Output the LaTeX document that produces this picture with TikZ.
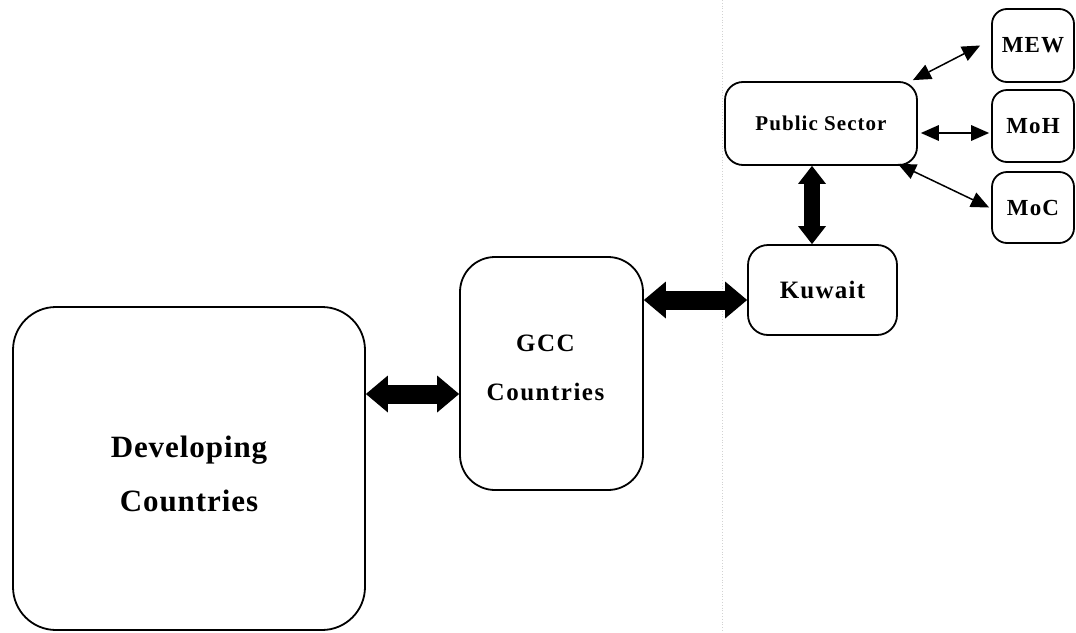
\documentclass[tikz,border=0pt]{standalone}
\usepackage{fontspec}
\setmainfont{Liberation Serif}
\usetikzlibrary{arrows.meta}
\begin{document}
\begin{tikzpicture}[x=1pt,y=-1pt,
  box/.style={draw=black,line width=1.8pt,fill=white,align=center,inner sep=0pt},
  txt/.style={align=center,inner sep=0pt},
  bigarrow/.style={line width=19pt,
    {Triangle[length=22pt,width=37pt,line width=0pt]}-{Triangle[length=22pt,width=37pt,line width=0pt]}},
  vertarrow/.style={line width=16pt,
    {Triangle[length=18pt,width=28pt,line width=0pt]}-{Triangle[length=18pt,width=28pt,line width=0pt]}},
  thinarrow/.style={line width=1.5pt,
    {Triangle[length=18pt,width=16pt,line width=0pt]}-{Triangle[length=18pt,width=16pt,line width=0pt]}},
  lbl/.style={font=\bfseries\fontsize{#1}{36}\selectfont\addfontfeatures{LetterSpace=5}}
]
\useasboundingbox (0,0) rectangle (1076,632);
\fill[white] (0,0) rectangle (1076,632);

% faint vertical guide line
\draw[gray!35,line width=0.8pt,dotted] (722,0) coordinate (gtop) -- (722,632) coordinate (gbot);

% boxes
\node[box,rounded corners=43pt,minimum width=352pt,minimum height=323pt]
  (dc) at (189,468.5) {};
\node[txt,font=\bfseries\fontsize{31}{54}\selectfont\addfontfeatures{LetterSpace=3}]
  (dctext) at ([yshift=-5pt]dc.center) {Developing\\Countries};
\node[box,rounded corners=35pt,minimum width=183pt,minimum height=233pt]
  (gcc) at (551.5,373.5) {};
\node[txt,font=\bfseries\fontsize{25}{49}\selectfont\addfontfeatures{LetterSpace=6}]
  (gcctext) at ([xshift=-6pt,yshift=6pt]gcc.center) {GCC\\Countries};
\node[box,rounded corners=20pt,minimum width=149pt,minimum height=90pt,lbl=25]
  (kuw) at (822.5,290) {Kuwait};
\node[box,rounded corners=18pt,minimum width=192pt,minimum height=83pt,lbl=21]
  (ps) at (821,123.5) {Public Sector};
\node[box,rounded corners=15pt,minimum width=82pt,minimum height=73pt,lbl=23]
  (mew) at (1033,45.5) {MEW};
\node[box,rounded corners=15pt,minimum width=82pt,minimum height=72pt,lbl=23]
  (moh) at (1033,126) {MoH};
\node[box,rounded corners=15pt,minimum width=82pt,minimum height=71pt,lbl=23]
  (moc) at (1033,207.5) {MoC};

% connectors
\draw[bigarrow] (dc.east |- 0,394) -- (gcc.west |- 0,394);
\draw[bigarrow] (gcc.east |- 0,300) -- (kuw.west |- 0,300);
\draw[vertarrow] (ps.south -| 812,0) -- (kuw.north -| 812,0);
\draw[thinarrow] ([xshift=-5pt,yshift=1pt]ps.north east) -- ([xshift=-11pt]mew.west);
\draw[thinarrow] ([xshift=3pt]ps.east |- 0,133) -- ([xshift=-2pt]moh.west |- 0,133);
\draw[thinarrow] ([xshift=-20pt,yshift=2pt]ps.south east) -- ([xshift=-2pt]moc.west);
\end{tikzpicture}
\end{document}
